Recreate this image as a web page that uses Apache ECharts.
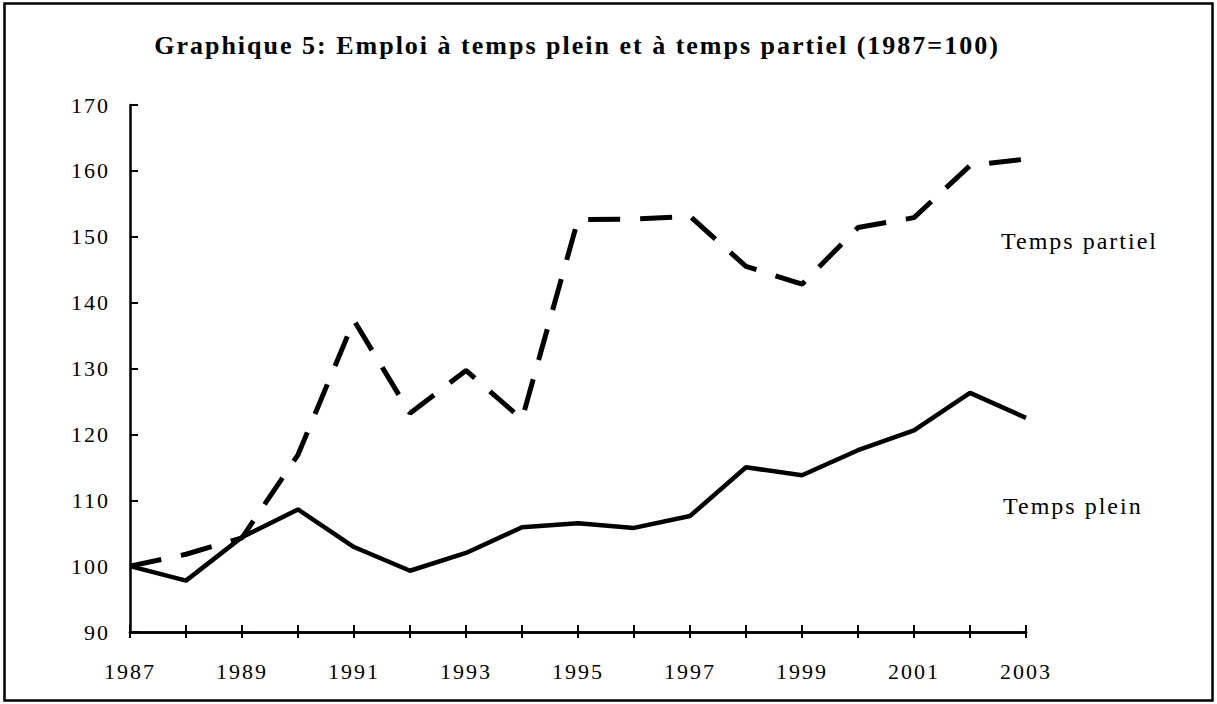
<!DOCTYPE html>
<html><head><meta charset="utf-8">
<script src="https://cdn.jsdelivr.net/npm/echarts@6/dist/echarts.min.js"></script>
<style>html,body{margin:0;padding:0;background:#fff}#c{width:1217px;height:704px}
#c svg text{letter-spacing:2px}</style>
</head><body><div id="c"></div>
<script>
const years = ['1987','1988','1989','1990','1991','1992','1993','1994','1995','1996','1997','1998','1999','2000','2001','2002','2003'];
const tempsPlein = [100, 97.8, 104.4, 108.6, 102.9, 99.3, 102, 105.9, 106.5, 105.8, 107.6, 115, 113.8, 117.6, 120.6, 126.3, 122.5];
const tempsPartiel = [100, 101.8, 104.3, 116.9, 137.3, 123.2, 129.7, 122.3, 152.6, 152.7, 153.1, 145.5, 142.8, 151.4, 152.9, 160.8, 161.8];
const yTicks = {min: 90, max: 170, interval: 10};
const titleText = 'Graphique 5: Emploi à temps plein et à temps partiel (1987=100)';
const labelPartiel = 'Temps partiel';
const labelPlein = 'Temps plein';

const font = '"Liberation Serif", "Times New Roman", serif';
const chart = echarts.init(document.getElementById('c'), null, {renderer: 'svg'});
const xBase = {
  type: 'category', data: years, boundaryGap: false, position: 'bottom',
  axisLine: {show: true, lineStyle: {color: '#000', width: 2.5}},
  splitLine: {show: false}
};
chart.setOption({
  animation: false,
  backgroundColor: '#fff',
  grid: {left: 130, right: 191, top: 105, bottom: 72, containLabel: false},
  xAxis: [
    Object.assign({}, xBase, {
      axisTick: {show: true, inside: false, length: 6, interval: 0, lineStyle: {color: '#000', width: 2}},
      axisLabel: {interval: 1, margin: 28, fontFamily: font, fontSize: 22, color: '#000'}
    }),
    Object.assign({}, xBase, {
      axisTick: {show: true, inside: true, length: 7, interval: 0, lineStyle: {color: '#000', width: 2}},
      axisLabel: {show: false}
    })
  ],
  yAxis: {
    type: 'value', min: yTicks.min, max: yTicks.max, interval: yTicks.interval,
    axisLine: {show: true, lineStyle: {color: '#000', width: 2.5}},
    axisTick: {show: true, inside: true, length: 8, lineStyle: {color: '#000', width: 2}},
    axisLabel: {margin: 20, fontFamily: font, fontSize: 22, color: '#000', padding: [7, 0, 0, 0]},
    splitLine: {show: false}
  },
  series: [
    {name: labelPartiel, type: 'line', data: tempsPartiel, symbol: 'none',
     lineStyle: {color: '#000', width: 5, type: [32, 20]}},
    {name: labelPlein, type: 'line', data: tempsPlein, symbol: 'none',
     lineStyle: {color: '#000', width: 4.5}}
  ],
  graphic: [
    {type: 'rect', shape: {x: 4.5, y: 3.5, width: 1208, height: 697}, silent: true,
     style: {fill: 'none', stroke: '#000', lineWidth: 2.5}, z: 100},
    {type: 'text', x: 577, y: 45, style: {text: titleText, font: 'bold 26px ' + font, fill: '#000', textAlign: 'center', textVerticalAlign: 'middle'}},
    {type: 'text', x: 1001, y: 240.5, style: {text: labelPartiel, font: '24px ' + font, fill: '#000', textAlign: 'left', textVerticalAlign: 'middle'}},
    {type: 'text', x: 1003, y: 505.5, style: {text: labelPlein, font: '24px ' + font, fill: '#000', textAlign: 'left', textVerticalAlign: 'middle'}}
  ]
});
</script></body></html>
